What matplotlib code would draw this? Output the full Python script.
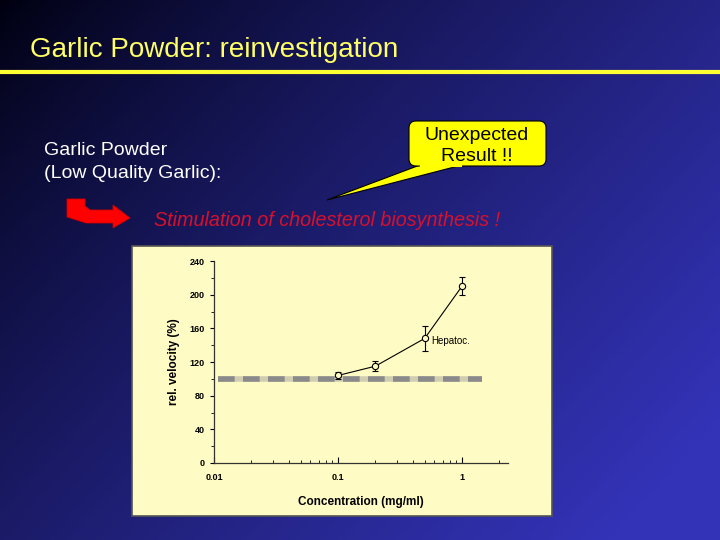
import numpy as np
import matplotlib
matplotlib.use('Agg')
import matplotlib.pyplot as plt
from matplotlib.patches import FancyBboxPatch, Polygon, PathPatch
from matplotlib.path import Path

plt.rcParams['font.family'] = ['Liberation Sans', 'DejaVu Sans']

# data
conc = [0.1, 0.2, 0.5, 1.0]
velocity = [104, 115, 148, 210]
err = [4.5, 6, 14.5, 10.5]
control_x = [0.0107, 1.45]
control_y = [100, 100]
x_ticks = [0.01, 0.1, 1]
x_ticklabels = ['0.01', '0.1', '1']
y_ticks = [0, 40, 80, 120, 160, 200, 240]

W, H = 720, 540
fig = plt.figure(figsize=(7.2, 5.4), dpi=100)

# slide background gradient
bg = fig.add_axes([0, 0, 1, 1])
gx, gy = np.meshgrid(np.linspace(0, 1, 200), np.linspace(0, 1, 150))
t = np.clip(0.65 * gx + 0.45 * gy, 0, 1)
dark = np.array([0.0, 0.0, 0.06])
light = np.array([0.20, 0.20, 0.72])
img = dark + (light - dark) * t[..., None] ** 0.8
bg.imshow(img, extent=[0, W, 0, H], origin='lower', aspect='auto')
bg.set_xlim(0, W)
bg.set_ylim(H, 0)
bg.axis('off')

# title and rule
bg.text(30, 50, 'Garlic Powder: reinvestigation', color='#ffff66', fontsize=20,
        va='center', ha='left')
bg.plot([0, W], [71.5, 71.5], color='#ffff33', lw=3, solid_capstyle='butt')

bg.text(44, 162, 'Garlic Powder\n(Low Quality Garlic):', color='white', fontsize=14,
        va='center', ha='left', linespacing=1.45)

# callout
tail = Polygon([(420, 165), (462, 165), (327, 200)], closed=True,
               facecolor='#ffff00', edgecolor='black', lw=0.8, zorder=3)
bg.add_patch(tail)
box = FancyBboxPatch((409, 121), 137, 45, boxstyle='round,pad=0,rounding_size=7',
                     facecolor='#ffff00', edgecolor='black', lw=0.8, zorder=4)
bg.add_patch(box)
bg.plot([421, 461], [165.5, 165.5], color='#ffff00', lw=1.5, zorder=5)
bg.text(477, 146, 'Unexpected\nResult !!', color='black', fontsize=14,
        ha='center', va='center', linespacing=1.35, zorder=6)

# red bent arrow
verts = [(67, 199), (85, 199), (85, 206), (90, 210), (113, 210), (113, 205),
         (130, 218), (113, 228), (113, 223), (86, 223), (67, 217), (67, 199)]
codes = [Path.MOVETO] + [Path.LINETO] * 10 + [Path.CLOSEPOLY]
bg.add_patch(PathPatch(Path(verts, codes), facecolor='#ff0000', edgecolor='#cc0000', lw=0.6))

bg.text(154, 220, 'Stimulation of cholesterol biosynthesis !', color='#d8102c',
        fontsize=14.2, style='italic', va='center', ha='left')

# chart panel
panel = FancyBboxPatch((132, 246), 420, 270, boxstyle='square,pad=0',
                       facecolor='#fffbc4', edgecolor='#555555', lw=1.2)
bg.add_patch(panel)

ax = fig.add_axes([214 / W, 1 - 463 / H, (508 - 214) / W, (463 - 261) / H])
ax.set_facecolor('none')
ax.set_xscale('log')
ax.set_xlim(0.01, 2.35)
ax.set_ylim(0, 240)

# hatched control line: light base with darker dashes
ax.plot(control_x, control_y, color='#d0cdb0', lw=4, solid_capstyle='butt', zorder=2)
ax.plot(control_x, control_y, color='#8a8a8a', lw=4, dashes=(3, 1.5), zorder=2)
ax.errorbar(conc, velocity, yerr=err, color='black', lw=0.8, marker='o', ms=4.5,
            mfc='#fffbc4', mec='black', mew=0.8, capsize=2.5, elinewidth=0.8, zorder=3)
ax.text(0.56, 145, 'Hepatoc.', fontsize=7, color='black', va='center')

for s in ['top', 'right']:
    ax.spines[s].set_visible(False)
for s in ['left', 'bottom']:
    ax.spines[s].set_color('#333333')
    ax.spines[s].set_linewidth(0.9)

ax.set_xticks(x_ticks)
ax.set_xticklabels(x_ticklabels)
ax.set_yticks(y_ticks)
ax.set_yticks(np.arange(20, 240, 40), minor=True)
ax.tick_params(axis='x', which='both', direction='in', labelsize=6.5, pad=7)
ax.tick_params(axis='x', which='major', length=4)
ax.tick_params(axis='x', which='minor', length=2.5)
ax.tick_params(axis='y', which='major', direction='out', length=3, labelsize=6.5)
ax.tick_params(axis='y', which='minor', direction='out', length=2)
for lab in ax.get_xticklabels() + ax.get_yticklabels():
    lab.set_fontweight('bold')

ax.set_xlabel('Concentration (mg/ml)', fontsize=8.5, fontweight='bold', labelpad=10)
ax.set_ylabel('rel. velocity (%)', fontsize=8.5, fontweight='bold', labelpad=7)

fig.savefig('out.png', dpi=100)
